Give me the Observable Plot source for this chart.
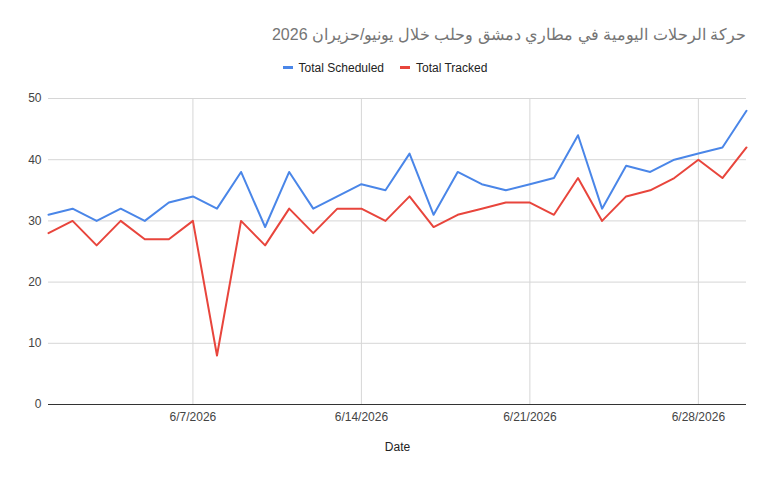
<!DOCTYPE html>
<html>
<head>
<meta charset="utf-8">
<script src="https://cdn.jsdelivr.net/npm/d3@7"></script>
<script src="https://cdn.jsdelivr.net/npm/@observablehq/plot@0.6"></script>
<style>
  body { margin: 0; background: #fff; font-family: "Liberation Sans", Arial, sans-serif; }
  #wrap { position: relative; width: 770px; height: 477px; }
  #title { position: absolute; top: 25px; right: 24px; font-size: 16px; color: #757575; direction: rtl; white-space: nowrap; }
  #legend { position: absolute; top: 61px; left: 0; width: 770px; text-align: center; font-size: 12px; color: #222; padding-left: 0; }
  #legend span.item { display: inline-block; margin: 0 8px; }
  #legend span.sw { display: inline-block; width: 10px; height: 3px; vertical-align: middle; margin-right: 6px; position: relative; top: -1px; }
  #chart { position: absolute; top: 85px; left: 0; }
</style>
</head>
<body>
<div id="wrap">
  <div id="title">حركة الرحلات اليومية في مطاري دمشق وحلب خلال يونيو/حزيران 2026</div>
  <div id="legend"></div>
  <div id="chart"></div>
</div>
<script>
const dates = ["2026-06-01","2026-06-02","2026-06-03","2026-06-04","2026-06-05","2026-06-06","2026-06-07","2026-06-08","2026-06-09","2026-06-10",
  "2026-06-11","2026-06-12","2026-06-13","2026-06-14","2026-06-15","2026-06-16","2026-06-17","2026-06-18","2026-06-19","2026-06-20",
  "2026-06-21","2026-06-22","2026-06-23","2026-06-24","2026-06-25","2026-06-26","2026-06-27","2026-06-28","2026-06-29","2026-06-30"];
const scheduled = [31,32,30,32,30,33,34,32,38,29,38,32,34,36,35,41,31,38,36,35,36,37,44,32,39,38,40,41,42,48];
const tracked   = [28,30,26,30,27,27,30,8,30,26,32,28,32,32,30,34,29,31,32,33,33,31,37,30,34,35,37,40,37,42];
const seriesNames = ["Total Scheduled", "Total Tracked"];
const seriesColors = ["#4a86e8", "#e8453c"];
const yTicks = [0,10,20,30,40,50];
const xTicks = ["2026-06-07","2026-06-14","2026-06-21","2026-06-28"];

const parse = d3.utcParse("%Y-%m-%d");
const rows = [];
dates.forEach((d, i) => {
  rows.push({date: parse(d), value: scheduled[i], series: seriesNames[0]});
  rows.push({date: parse(d), value: tracked[i], series: seriesNames[1]});
});
const xTickDates = xTicks.map(parse);
const fmt = d => `${d.getUTCMonth()+1}/${d.getUTCDate()}/${d.getUTCFullYear()}`;

const legend = document.getElementById("legend");
legend.innerHTML = seriesNames.map((n, i) =>
  `<span class="item"><span class="sw" style="background:${seriesColors[i]}"></span>${n}</span>`).join("");

const chart = Plot.plot({
  width: 770,
  height: 392,
  marginLeft: 48,
  marginRight: 24,
  marginTop: 13,
  marginBottom: 73,
  style: {fontFamily: "'Liberation Sans', Arial, sans-serif", fontSize: "12px", color: "#444", background: "#fff"},
  x: {type: "utc", domain: [parse(dates[0]), parse(dates[dates.length-1])], ticks: xTickDates, tickFormat: fmt, tickSize: 0, tickPadding: 8, label: null},
  y: {domain: [0, 50], ticks: yTicks, tickSize: 0, tickPadding: 7, label: null},
  color: {domain: seriesNames, range: seriesColors},
  marks: [
    Plot.gridY(yTicks, {stroke: "#d6d6d6", strokeOpacity: 1}),
    Plot.gridX(xTickDates, {stroke: "#d6d6d6", strokeOpacity: 1}),
    Plot.axisX(xTickDates, {tickFormat: fmt, tickSize: 0, tickPadding: 8, label: null, fill: "#444"}),
    Plot.axisY(yTicks, {tickSize: 0, tickPadding: 7, label: null, fill: "#444"}),
    Plot.ruleY([0], {stroke: "#333", strokeWidth: 1}),
    Plot.line(rows, {x: "date", y: "value", z: "series", stroke: "series", strokeWidth: 2}),
    Plot.text(["Date"], {frameAnchor: "bottom", dy: 46, fill: "#222", fontSize: 12})
  ]
});
document.getElementById("chart").appendChild(chart);
</script>
</body>
</html>
